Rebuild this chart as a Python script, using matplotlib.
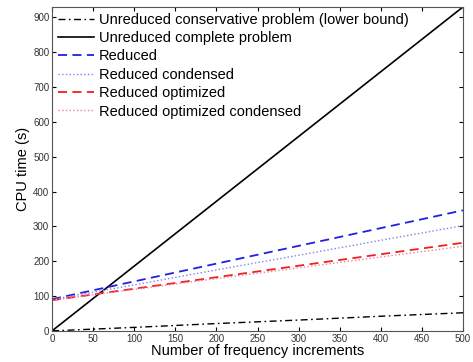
import matplotlib.pyplot as plt
import numpy as np

plt.rcParams['font.family'] = ['Liberation Sans', 'DejaVu Sans']

# Number of frequency increments
n = np.array([0, 100, 200, 300, 400, 500])

# CPU time (s) for each method
lower_bound = np.array([0, 10, 21, 31, 42, 52])
complete = np.array([0, 186, 372, 558, 744, 930])
reduced = np.array([91, 142, 193, 244, 295, 346])
reduced_cond = np.array([90, 132, 175, 217, 260, 302])
reduced_opt = np.array([88, 121, 154, 187, 220, 253])
reduced_opt_cond = np.array([88, 119, 150, 181, 212, 243])

fig = plt.figure(figsize=(4.73, 3.62), dpi=100)
ax = fig.add_axes([0.110, 0.086, 0.869, 0.895])

ax.plot(n, lower_bound, color='k', linestyle=(0, (5, 2.5, 1.2, 2.5)), lw=1.0,
        label='Unreduced conservative problem (lower bound)')
ax.plot(n, complete, color='k', linestyle='-', lw=1.2,
        label='Unreduced complete problem')
ax.plot(n, reduced, color='#2020e0', linestyle=(0, (5, 3)), lw=1.3,
        label='Reduced')
ax.plot(n, reduced_cond, color='#8080f0', linestyle=':', lw=1.0,
        label='Reduced condensed')
ax.plot(n, reduced_opt, color='#f02020', linestyle=(0, (5, 3)), lw=1.3,
        label='Reduced optimized')
ax.plot(n, reduced_opt_cond, color='#f080a0', linestyle=':', lw=1.0,
        label='Reduced optimized condensed')

ax.set_xlim(0, 500)
ax.set_ylim(0, 930)
ax.set_xticks(np.arange(0, 501, 50))
ax.set_yticks(np.arange(0, 901, 100))
ax.tick_params(direction='in', top=True, right=True, labelsize=7,
               labelcolor='#333333', length=3, pad=2)
for s in ax.spines.values():
    s.set_color('#555555')
    s.set_linewidth(0.8)

ax.set_xlabel('Number of frequency increments', fontsize=10.5, labelpad=0)
ax.set_ylabel('CPU time (s)', fontsize=10.5, labelpad=2)

ax.legend(loc='upper left', frameon=False, fontsize=10.5, handlelength=2.5,
          handletextpad=0.3, labelspacing=0.3, borderaxespad=0.2,
          borderpad=0.2)

fig.savefig('out.png', dpi=100)
